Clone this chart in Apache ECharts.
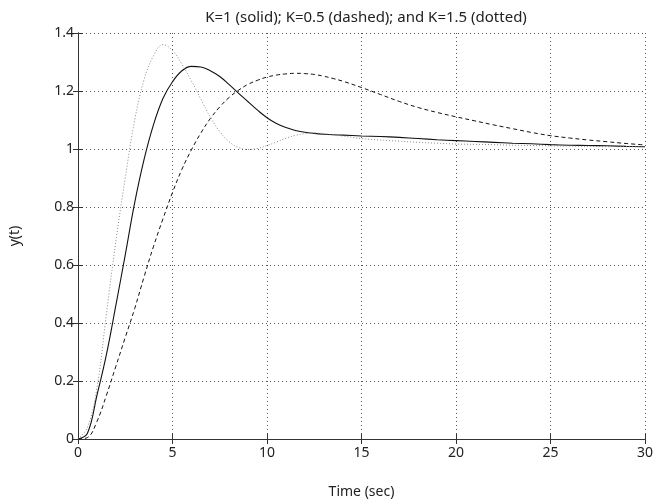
<!DOCTYPE html>
<html>
<head>
<meta charset="utf-8">
<script src="https://cdn.jsdelivr.net/npm/echarts@6/dist/echarts.min.js"></script>
<style>
html,body{margin:0;padding:0;background:#fff;}
#c{width:656px;height:504px;}
</style>
</head>
<body>
<div id="c"></div>
<script>
// Time samples (sec)
var timeSec = [0,0.5,1,1.5,2,2.5,3,3.5,4,4.5,5,5.5,6,6.5,7,7.5,8,8.5,9,9.5,10,10.5,11,11.5,12,12.5,13,13.5,14,15,16,17,18,19,20,21,22,23,24,25,26,27,28,29,30];
// K=1 (solid)
var yK1 = [0,0.02,0.15,0.29,0.46,0.635,0.815,0.965,1.085,1.175,1.232,1.27,1.285,1.283,1.27,1.25,1.222,1.192,1.163,1.134,1.108,1.088,1.074,1.064,1.058,1.054,1.051,1.049,1.048,1.045,1.043,1.04,1.036,1.032,1.029,1.026,1.023,1.02,1.018,1.015,1.013,1.012,1.011,1.009,1.008];
// K=0.5 (dashed)
var yK05 = [0,0.005,0.06,0.15,0.25,0.35,0.45,0.56,0.665,0.76,0.85,0.93,0.997,1.055,1.105,1.145,1.178,1.203,1.223,1.237,1.248,1.255,1.259,1.261,1.26,1.257,1.251,1.243,1.234,1.212,1.188,1.164,1.143,1.126,1.111,1.097,1.083,1.07,1.057,1.046,1.038,1.031,1.025,1.019,1.014];
// K=1.5 (dotted)
var yK15 = [0,0.04,0.175,0.43,0.68,0.9,1.1,1.24,1.322,1.36,1.34,1.292,1.235,1.172,1.11,1.06,1.025,1.005,0.998,1.002,1.012,1.024,1.037,1.047,1.053,1.055,1.053,1.049,1.045,1.036,1.031,1.027,1.023,1.02,1.017,1.016,1.015,1.013,1.012,1.011,1.01,1.009,1.008,1.008,1.007];
var xTicks = [0,5,10,15,20,25,30];
var yTicks = [0,0.2,0.4,0.6,0.8,1,1.2,1.4];

function pairs(vals){ return timeSec.map(function(t,i){ return [t, vals[i]]; }); }

var FONT = 'Noto Sans';
var chart = echarts.init(document.getElementById('c'), null, {renderer:'canvas'});
var gridLine = {show:true, lineStyle:{color:'#555', width:1, type:[1,3]}};
var axisLine = {show:true, lineStyle:{color:'#333', width:1}};
chart.setOption({
  animation:false,
  backgroundColor:'#fff',
  title:{text:'K=1 (solid); K=0.5 (dashed); and K=1.5 (dotted)', left:361, textAlign:'center', top:5,
    textStyle:{fontFamily:FONT, fontSize:15, fontWeight:'normal', color:'#222'}},
  grid:{left:77, right:10, top:33, bottom:58},
  xAxis:[{
    type:'value', min:0, max:30, interval:5,
    name:'Time (sec)', nameLocation:'middle', nameGap:46,
    nameTextStyle:{fontFamily:FONT, fontSize:14, color:'#222'},
    axisLine:axisLine, axisTick:{show:true, inside:true, length:5, lineStyle:{color:'#333'}},
    axisLabel:{fontFamily:FONT, fontSize:14, color:'#222', margin:7},
    splitLine:gridLine
  },{
    type:'value', min:0, max:30, interval:5, position:'top',
    axisLine:axisLine, axisTick:{show:true, inside:true, length:5, lineStyle:{color:'#333'}},
    axisLabel:{show:false}, splitLine:{show:false}
  }],
  yAxis:[{
    type:'value', min:0, max:1.4, interval:0.2,
    name:'y(t)', nameLocation:'middle', nameGap:56,
    nameTextStyle:{fontFamily:FONT, fontSize:14, color:'#222'},
    axisLine:axisLine, axisTick:{show:true, inside:true, length:5, lineStyle:{color:'#333'}},
    axisLabel:{fontFamily:FONT, fontSize:14, color:'#222', margin:4},
    splitLine:gridLine
  },{
    type:'value', min:0, max:1.4, interval:0.2, position:'right',
    axisLine:axisLine, axisTick:{show:true, inside:true, length:5, lineStyle:{color:'#333'}},
    axisLabel:{show:false}, splitLine:{show:false}
  }],
  series:[
    {name:'K=1', type:'line', data:pairs(yK1), showSymbol:false, smooth:0.4,
      lineStyle:{color:'#111', width:1.1, type:'solid'}},
    {name:'K=0.5', type:'line', data:pairs(yK05), showSymbol:false, smooth:0.4,
      lineStyle:{color:'#111', width:1, type:[4,3]}},
    {name:'K=1.5', type:'line', data:pairs(yK15), showSymbol:false, smooth:0.4,
      lineStyle:{color:'#888', width:1, type:[1,2]}}
  ]
});
</script>
</body>
</html>
